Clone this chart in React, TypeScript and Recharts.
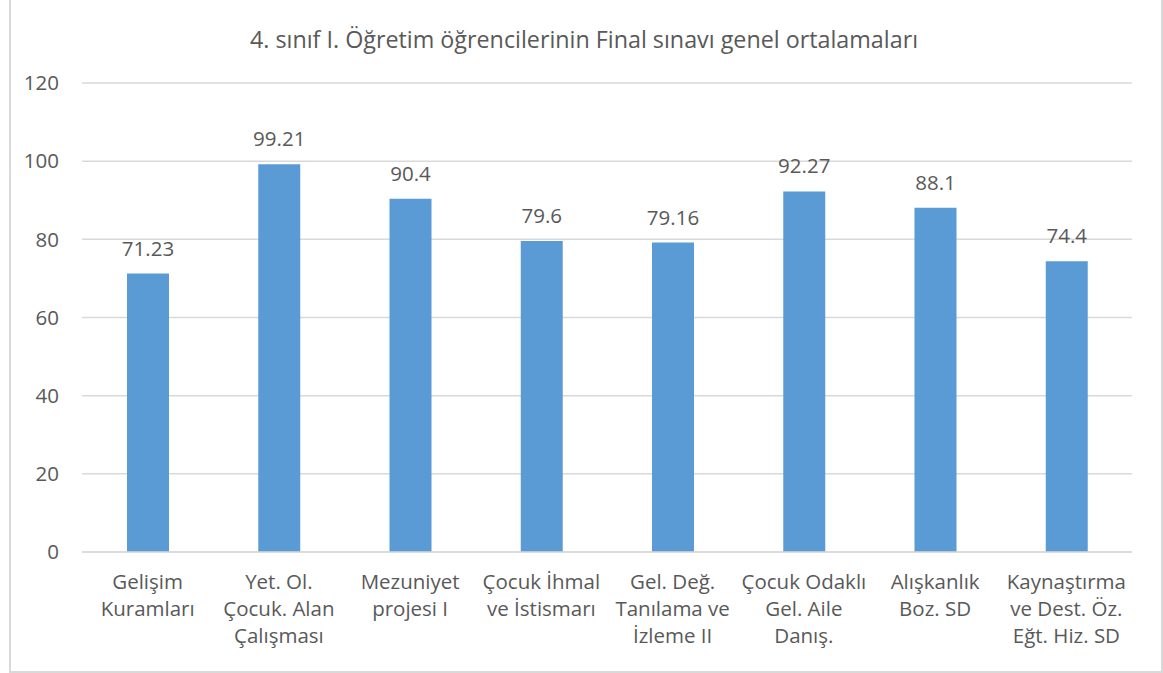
import { Bar, BarChart, CartesianGrid, LabelList, XAxis, YAxis } from "recharts";

const categories = [
  "Gelişim\nKuramları",
  "Yet. Ol.\nÇocuk. Alan\nÇalışması",
  "Mezuniyet\nprojesi I",
  "Çocuk İhmal\nve İstismarı",
  "Gel. Değ.\nTanılama ve\nİzleme II",
  "Çocuk Odaklı\nGel. Aile\nDanış.",
  "Alışkanlık\nBoz. SD",
  "Kaynaştırma\nve Dest. Öz.\nEğt. Hiz. SD",
];
const scores = [71.23, 99.21, 90.4, 79.6, 79.16, 92.27, 88.1, 74.4];
const yTicks = [0, 20, 40, 60, 80, 100, 120];

const data = categories.map((name, i) => ({ name, score: scores[i] }));

const FONT = "'Open Sans', sans-serif";
const TEXT = "#595959";

const CategoryTick = ({ x, y, payload }: any) => {
  const lines = String(payload.value).split("\n");
  return (
    <text x={x} y={y + 35} textAnchor="middle" fill={TEXT} fontSize={20.5} fontFamily={FONT}>
      {lines.map((line, i) => (
        <tspan key={i} x={x} dy={i === 0 ? 0 : 27}>
          {line}
        </tspan>
      ))}
    </text>
  );
};

export default function App() {
  return (
    <div style={{ position: "absolute", left: 0, top: 0, width: 1163, height: 673, background: "#fff" }}>
      <div
        style={{
          position: "absolute",
          left: 9,
          top: -2,
          width: 1150,
          height: 671,
          border: "2px solid #d9d9d9",
        }}
      />
      <div
        style={{
          position: "absolute",
          left: 0,
          top: 23,
          width: 1168,
          textAlign: "center",
          fontFamily: FONT,
          fontSize: 23.3,
          color: TEXT,
        }}
      >
        4. sınıf I. Öğretim öğrencilerinin Final sınavı genel ortalamaları
      </div>
      <div style={{ position: "absolute", left: 0, top: 0 }}>
        <BarChart
          width={1163}
          height={673}
          data={data}
          margin={{ top: 83, right: 31, bottom: 21, left: 22 }}
          barSize={42}
        >
          <CartesianGrid vertical={false} stroke="#d9d9d9" strokeWidth={1.5} />
          <XAxis
            dataKey="name"
            interval={0}
            height={100}
            tickLine={false}
            tickSize={0}
            axisLine={{ stroke: "#d9d9d9", strokeWidth: 1.5 }}
            tick={<CategoryTick />}
          />
          <YAxis
            domain={[0, 120]}
            ticks={yTicks}
            width={60}
            axisLine={false}
            tickLine={false}
            tickSize={0}
            tickMargin={23}
            tick={{ fill: TEXT, fontSize: 20.5, fontFamily: FONT }}
          />
          <Bar dataKey="score" fill="#5b9bd5" isAnimationActive={false}>
            <LabelList
              dataKey="score"
              position="top"
              offset={18}
              fill={TEXT}
              fontSize={20.5}
              fontFamily={FONT}
            />
          </Bar>
        </BarChart>
      </div>
    </div>
  );
}
